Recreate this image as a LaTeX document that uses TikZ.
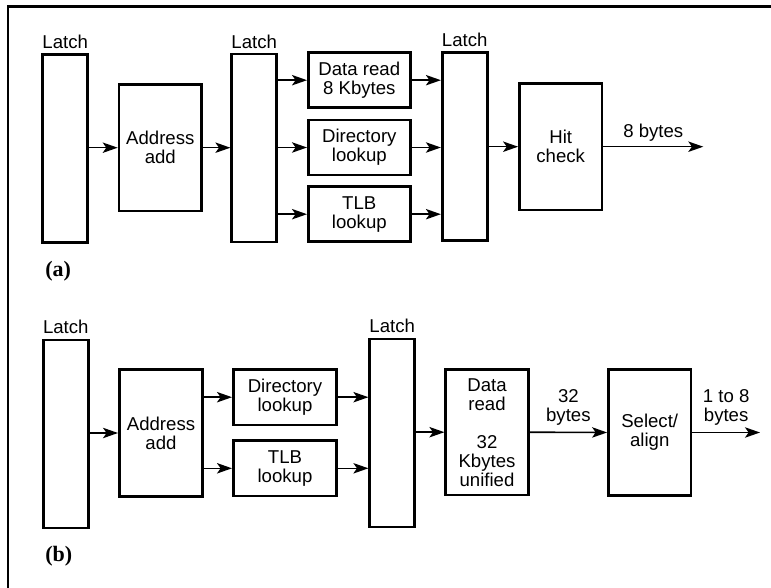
\documentclass[tikz,border=0pt]{standalone}
\usepackage{fontspec}
\setmainfont{Liberation Sans}
\newfontfamily\capfont{Liberation Serif}
\usetikzlibrary{arrows.meta}
\tikzset{
  txt/.style={font=\fontsize{9.3}{9.5}\selectfont,inner sep=0pt,align=center},
  capt/.style={font=\capfont\bfseries\fontsize{11}{12}\selectfont,inner sep=0pt,anchor=base west},
  latch/.style={draw,line width=1.3pt,minimum width=22.5pt,minimum height=94pt,inner sep=0pt},
  blk/.style={draw,line width=1.3pt,txt},
  conn/.style={line width=0.8pt,-{Stealth[length=7.5pt,width=5.2pt,inset=1.8pt]}},
}

\begin{document}
\begin{tikzpicture}[x=0.5pt,y=-0.5pt]
  \useasboundingbox (0,0) rectangle (771,588);
  % frame
  \draw[line width=1.3pt] (8,588) -- (8,6.7) -- (771,6.7);
  % (a)
  \node[latch] (l1a) at (65.2,148.5) {};
  \node[blk,minimum width=41.3pt,minimum height=63.3pt] (adda) at (160.3,147.7) {Address\\add};
  \node[latch] (l2a) at (254.2,148) {};
  \node[blk,minimum width=51pt,minimum height=27.5pt] (dra) at (359.3,80.2) {Data read\\8 Kbytes};
  \node[blk,minimum width=51pt,minimum height=27.5pt] (dira) at (359.3,147.5) {Directory\\lookup};
  \node[blk,minimum width=51pt,minimum height=27.5pt] (tlba) at (359.3,214.2) {TLB\\lookup};
  \node[latch] (l3a) at (464.7,146.7) {};
  \node[blk,minimum width=41.3pt,minimum height=63.3pt] (hit) at (560.7,146.7) {Hit\\check};
  \coordinate (outa) at (703.3,146.7);
  \node[txt,anchor=south] (l1at) at ([yshift=2pt]l1a.north) {Latch};
  \node[txt,anchor=south] (l2at) at ([yshift=2pt]l2a.north) {Latch};
  \node[txt,anchor=south] (l3at) at ([yshift=2pt]l3a.north) {Latch};
  \node[capt] (capa) at (45,276.7) {(a)};
  \draw[conn] (l1a.east |- adda.west) -- (adda.west);
  \draw[conn] (adda.east) -- (adda.east -| l2a.west);
  \draw[conn] (l2a.east |- dra.west) -- (dra.west);
  \draw[conn] (l2a.east |- dira.west) -- (dira.west);
  \draw[conn] (l2a.east |- tlba.west) -- (tlba.west);
  \draw[conn] (dra.east) -- (dra.east -| l3a.west);
  \draw[conn] (dira.east) -- (dira.east -| l3a.west);
  \draw[conn] (tlba.east) -- (tlba.east -| l3a.west);
  \draw[conn] (l3a.east |- hit.west) -- (hit.west);
  \draw[conn] (hit.east) -- node[txt,above=2.5pt] (bya) {8 bytes} (outa);
  % (b)
  \node[latch] (l1b) at (65.8,433.8) {};
  \node[blk,minimum width=41.7pt,minimum height=63.7pt] (addb) at (161,433) {Address\\add};
  \node[blk,minimum width=51.7pt,minimum height=27.8pt] (dirb) at (285,397.2) {Directory\\lookup};
  \node[blk,minimum width=51.7pt,minimum height=27.8pt] (tlbb) at (285,468.3) {TLB\\lookup};
  \node[latch] (l2b) at (392.2,432.8) {};
  \node[blk,minimum width=41.3pt,minimum height=62.9pt] (datb) at (487,432.2) {Data\\read\\[9.5pt]32\\Kbytes\\unified};
  \node[blk,minimum width=41.3pt,minimum height=63.2pt] (sel) at (649.7,432.5) {Select/\\align};
  \coordinate (outb) at (760,432.5);
  \node[txt,anchor=south] (l1bt) at ([yshift=2pt]l1b.north) {Latch};
  \node[txt,anchor=south] (l2bt) at ([yshift=2pt]l2b.north) {Latch};
  \node[capt] (capb) at (45,561.7) {(b)};
  \draw[conn] (l1b.east |- addb.west) -- (addb.west);
  \draw[conn] (addb.east |- dirb.west) -- (dirb.west);
  \draw[conn] (addb.east |- tlbb.west) -- (tlbb.west);
  \draw[conn] (dirb.east) -- (dirb.east -| l2b.west);
  \draw[conn] (tlbb.east) -- (tlbb.east -| l2b.west);
  \draw[conn] (l2b.east |- datb.west) -- (datb.west);
  \draw[conn] (datb.east) -- node[txt,above=3pt] (byb) {32\\bytes} (sel.west);
  \draw[conn] (sel.east) -- node[txt,above=3pt] (byc) {1 to 8\\bytes} (outb);
\end{tikzpicture}
\end{document}
